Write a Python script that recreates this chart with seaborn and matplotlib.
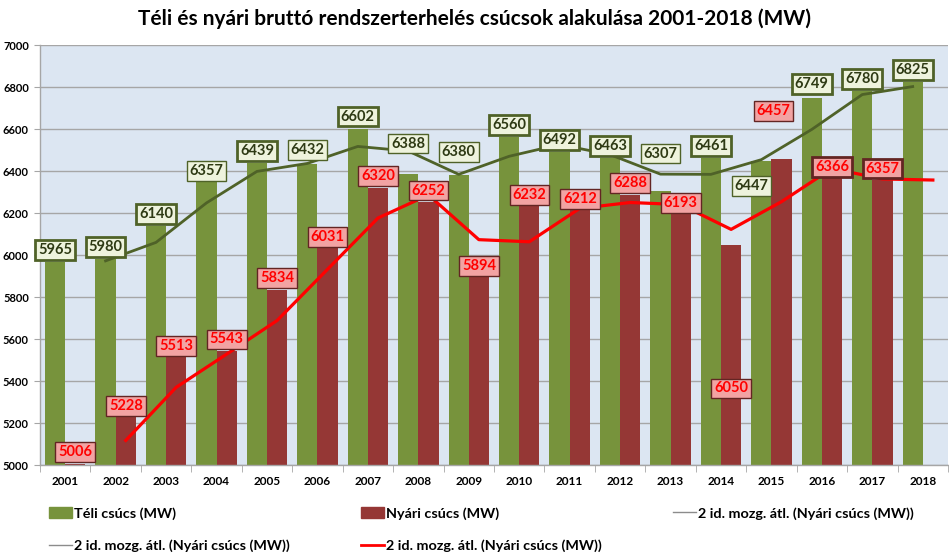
import numpy as np
import pandas as pd
import matplotlib
matplotlib.use("Agg")
import matplotlib.pyplot as plt
from matplotlib.patches import Patch
from matplotlib.lines import Line2D
import seaborn as sns

# ---------------- data ----------------
years = ["2001", "2002", "2003", "2004", "2005", "2006", "2007", "2008", "2009",
         "2010", "2011", "2012", "2013", "2014", "2015", "2016", "2017", "2018"]
teli = [5965, 5980, 6140, 6357, 6439, 6432, 6602, 6388, 6380,
        6560, 6492, 6463, 6307, 6461, 6447, 6749, 6780, 6825]
nyari = [5006, 5228, 5513, 5543, 5834, 6031, 6320, 6252, 5894,
         6232, 6212, 6288, 6193, 6050, 6457, 6366, 6357, np.nan]
teli_atl = [np.nan, 5972, 6060, 6248, 6398, 6436, 6517, 6495, 6384,
            6470, 6526, 6478, 6385, 6384, 6454, 6598, 6764, 6802]
nyari_atl = [np.nan, 5117, 5370, 5528, 5688, 5932, 6176, 6286, 6073,
             6063, 6222, 6250, 6240, 6122, 6254, 6412, 6362, 6357]

title = "Téli és nyári bruttó rendszerterhelés csúcsok alakulása 2001-2018 (MW)"
lab_teli = "Téli csúcs (MW)"
lab_nyari = "Nyári csúcs (MW)"
lab_atl = "2 id. mozg. átl. (Nyári csúcs (MW))"

# ---------------- styles ----------------
GREEN = "#77933c"
RED = "#953735"
DKGREEN = "#4f6228"
LINERED = "#ff0000"
BG = "#dce6f2"
GRID = "#a6a6a6"
FONT = "Lato"

# label offsets in pixels (centre of label above bar top), x-shift in pixels
teli_dy = {3: 9, 5: 14, 7: 30, 8: 23, 12: 37, 14: -25, 15: 14}
teli_dx = {14: -10}
nyari_dy = {13: -144, 14: 48}
nyari_dx = {14: -8}
teli_thin = {3, 5, 7, 8, 12, 14}
nyari_thick = {15, 16}

plt.rcParams["font.family"] = [FONT, "DejaVu Sans"]

fig = plt.figure(figsize=(9.49, 5.6), dpi=100)
ax = fig.add_axes([40 / 949, 1 - 465 / 560, 908 / 949, 420 / 560])
ax.set_facecolor(BG)

df = pd.DataFrame({
    "Év": years * 2,
    "Érték": teli + nyari,
    "Sorozat": [lab_teli] * len(years) + [lab_nyari] * len(years),
}).dropna()

sns.barplot(data=df, x="Év", y="Érték", hue="Sorozat", order=years,
            hue_order=[lab_teli, lab_nyari], palette=[GREEN, RED],
            saturation=1, width=0.8, linewidth=0, errorbar=None,
            legend=False, ax=ax, zorder=2)

pos = np.arange(len(years))
sns.lineplot(x=pos - 0.2, y=teli_atl, color=DKGREEN, linewidth=2.0,
             ax=ax, sort=False, estimator=None, zorder=3)
sns.lineplot(x=pos + 0.2, y=nyari_atl, color=LINERED, linewidth=2.3,
             ax=ax, sort=False, estimator=None, zorder=3)

ax.set_ylim(5000, 7000)
ax.set_xlim(-0.5, len(years) - 0.5)
ax.set_yticks(np.arange(5000, 7001, 200))
ax.yaxis.grid(True, color=GRID, linewidth=1.0, zorder=0)
ax.xaxis.grid(False)
ax.set_axisbelow(True)
ax.set_xlabel("")
ax.set_ylabel("")
for s in ["top", "right"]:
    ax.spines[s].set_visible(False)
for s in ["left", "bottom"]:
    ax.spines[s].set_color(GRID)
    ax.spines[s].set_linewidth(1.0)
ax.tick_params(axis="y", length=4, color=GRID, labelsize=8, pad=4)
ax.tick_params(axis="x", length=0, labelsize=8.5, pad=8)
for t in ax.get_yticklabels() + ax.get_xticklabels():
    t.set_fontweight("bold")
# tick marks between categories
ax.set_xticks(np.arange(-0.5, len(years), 1.0), minor=True)
ax.tick_params(axis="x", which="minor", length=5, color=GRID)

# value labels
for i, v in enumerate(teli):
    ax.annotate(f"{v}", xy=(i - 0.2, v), xytext=(teli_dx.get(i, 0), teli_dy.get(i, 12)),
                textcoords="offset pixels", ha="center", va="center",
                fontsize=10.5, fontweight="bold", color="#2e3a14", zorder=5,
                bbox=dict(boxstyle="square,pad=0.2", fc="#eef3dd", ec=DKGREEN,
                          lw=1.0 if i in teli_thin else 2.0))
for i, v in enumerate(nyari):
    if np.isnan(v):
        continue
    ax.annotate(f"{int(v)}", xy=(i + 0.2, v), xytext=(nyari_dx.get(i, 0), nyari_dy.get(i, 11.5)),
                textcoords="offset pixels", ha="center", va="center",
                fontsize=10.5, fontweight="bold", color="#ff0000", zorder=5,
                bbox=dict(boxstyle="square,pad=0.2", fc="#f2a3a3", ec="#632523",
                          lw=2.0 if i in nyari_thick else 1.0))

fig.suptitle(title, x=0.5, y=0.985, fontsize=15, fontweight="bold", va="top")

handles = [Patch(color=GREEN), Line2D([], [], color="#8c8c8c", lw=1),
           Patch(color=RED), Line2D([], [], color=LINERED, lw=2),
           Line2D([], [], color="#8c8c8c", lw=1)]
labels = [lab_teli, lab_atl, lab_nyari, lab_atl, lab_atl]
leg = fig.legend(handles, labels, ncol=3, loc="upper left",
                 bbox_to_anchor=(49 / 949, 1 - 507 / 560), frameon=False,
                 prop={"family": [FONT, "DejaVu Sans"], "weight": "bold", "size": 10.4},
                 handlelength=1.6, handletextpad=0.15, columnspacing=4.9,
                 labelspacing=1.35, borderaxespad=0, borderpad=0)

fig.savefig("out.png", dpi=100, facecolor="white")
